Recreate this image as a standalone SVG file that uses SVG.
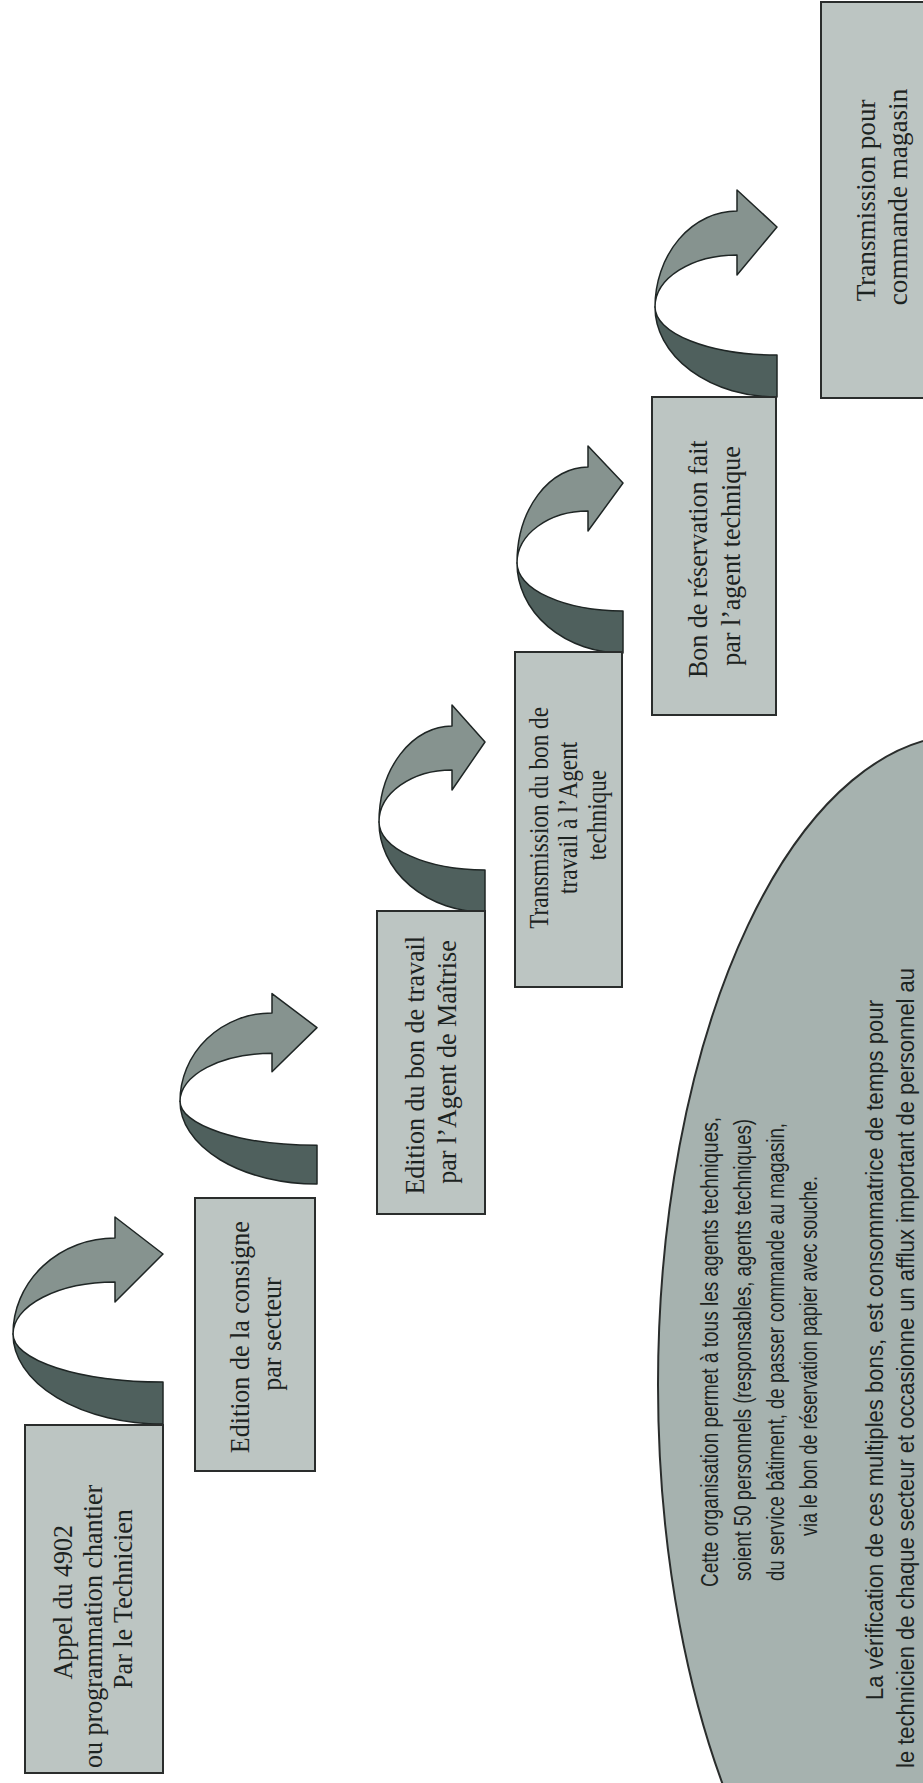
<svg xmlns="http://www.w3.org/2000/svg" width="923" height="1783" viewBox="0 0 923 1783">
<style>
.box{fill:#bcc5c2;stroke:#2a2d2c;stroke-width:2}
.ell{fill:#a6b2af;stroke:#2a2d2c;stroke-width:2}
.dk{fill:#4f605d;stroke:#1f2625;stroke-width:1.5;stroke-linejoin:round}
.lt{fill:#86938f;stroke:#1f2625;stroke-width:1.5;stroke-linejoin:round}
.bt{font-family:"Liberation Serif","Times New Roman",serif;font-size:28px;fill:#1c2321;text-anchor:middle}
.et{font-family:"Liberation Sans",Arial,sans-serif;font-size:23px;fill:#1c2321;text-anchor:middle}
</style>
<rect width="923" height="1783" fill="#ffffff"/>

<g id="connectors">
  <g id="arrow1" transform="translate(163,1424)">
    <path class="dk" d="M0,0 A150,90 0 0 1 -150,-90 A150,48 0 0 0 0,-42 Z"/>
    <path class="lt" d="M-150,-90 A102,96 0 0 1 -48,-186 L-48,-207 L0,-170 L-48,-122 L-48,-142 A102,52 0 0 0 -150,-90 Z"/>
  </g>
  <g id="arrow2" transform="translate(317,1184) scale(1,0.92)">
    <path class="dk" vector-effect="non-scaling-stroke" d="M0,0 A137,90 0 0 1 -137,-90 A137,48 0 0 0 0,-42 Z"/>
    <path class="lt" vector-effect="non-scaling-stroke" d="M-137,-90 A92,96 0 0 1 -45,-186 L-45,-207 L0,-170 L-45,-122 L-45,-142 A92,52 0 0 0 -137,-90 Z"/>
  </g>
  <g id="arrow3" transform="translate(485,912)">
    <path class="dk" d="M0,0 A106,90 0 0 1 -106,-90 A106,48 0 0 0 0,-42 Z"/>
    <path class="lt" d="M-106,-90 A73,96 0 0 1 -33,-186 L-33,-207 L0,-170 L-33,-122 L-33,-142 A73,52 0 0 0 -106,-90 Z"/>
  </g>
  <g id="arrow4" transform="translate(623,653)">
    <path class="dk" d="M0,0 A106,90 0 0 1 -106,-90 A106,48 0 0 0 0,-42 Z"/>
    <path class="lt" d="M-106,-90 A71,96 0 0 1 -35,-186 L-35,-207 L0,-170 L-35,-122 L-35,-142 A71,52 0 0 0 -106,-90 Z"/>
  </g>
  <g id="arrow5" transform="translate(777,397)">
    <path class="dk" d="M0,0 A122,90 0 0 1 -122,-90 A122,48 0 0 0 0,-42 Z"/>
    <path class="lt" d="M-122,-90 A82,96 0 0 1 -40,-186 L-40,-207 L0,-170 L-40,-122 L-40,-142 A82,52 0 0 0 -122,-90 Z"/>
  </g>
</g>

<g id="node1">
  <rect class="box" x="25" y="1425" width="138" height="348"/>
  <text class="bt" transform="translate(0,1599) rotate(-90) scale(0.93,1)">
    <tspan x="0" y="72">Appel du 4902</tspan>
    <tspan x="-26" y="102">ou programmation chantier</tspan>
    <tspan x="0" y="132">Par le Technicien</tspan>
  </text>
</g>

<g id="node2">
  <rect class="box" x="195" y="1198" width="120" height="273"/>
  <text class="bt" transform="translate(0,1334) rotate(-90) scale(0.93,1)">
    <tspan x="0" y="249">Edition de la consigne</tspan>
    <tspan x="0" y="281">par secteur</tspan>
  </text>
</g>

<g id="node3">
  <rect class="box" x="377" y="911" width="108" height="303"/>
  <text class="bt" transform="translate(0,1062) rotate(-90) scale(0.93,1)">
    <tspan x="0" y="424">Edition du bon de travail</tspan>
    <tspan x="0" y="456">par l’Agent de Maîtrise</tspan>
  </text>
</g>

<g id="node4">
  <rect class="box" x="515" y="652" width="107" height="335"/>
  <text class="bt" transform="translate(0,815) rotate(-90) scale(0.83,1)">
    <tspan x="0" y="548">Transmission du bon de</tspan>
    <tspan x="0" y="577">travail à l’Agent</tspan>
    <tspan x="0" y="606">technique</tspan>
  </text>
</g>

<g id="node5">
  <rect class="box" x="652" y="397" width="124" height="318"/>
  <text class="bt" transform="translate(0,556) rotate(-90) scale(0.93,1)">
    <tspan x="0" y="707">Bon de réservation fait</tspan>
    <tspan x="0" y="740">par l’agent technique</tspan>
  </text>
</g>

<g id="node6">
  <rect class="box" x="821" y="2" width="130" height="396"/>
  <text class="bt" transform="translate(0,197) rotate(-90) scale(0.97,1)">
    <tspan x="0" y="875">Transmission pour</tspan>
    <tspan x="0" y="907">commande magasin</tspan>
  </text>
</g>

<g id="note">
  <ellipse class="ell" cx="965" cy="1385" rx="307" ry="650"/>
  <text class="et" transform="translate(718,1352) rotate(-90)" textLength="470" lengthAdjust="spacingAndGlyphs">Cette organisation permet à tous les agents techniques,</text>
  <text class="et" transform="translate(751,1350) rotate(-90)" textLength="462" lengthAdjust="spacingAndGlyphs">soient 50 personnels (responsables, agents techniques)</text>
  <text class="et" transform="translate(784,1352) rotate(-90)" textLength="458" lengthAdjust="spacingAndGlyphs">du service bâtiment, de passer commande au magasin,</text>
  <text class="et" transform="translate(817,1356) rotate(-90)" textLength="360" lengthAdjust="spacingAndGlyphs">via le bon de réservation  papier avec souche.</text>
  <text class="et" transform="translate(883,1350) rotate(-90)" textLength="700" lengthAdjust="spacingAndGlyphs">La vérification de ces multiples bons, est consommatrice de temps pour</text>
  <text class="et" transform="translate(914,1368) rotate(-90)" textLength="800" lengthAdjust="spacingAndGlyphs">le technicien de chaque secteur et occasionne un afflux important de personnel au</text>
</g>
</svg>
